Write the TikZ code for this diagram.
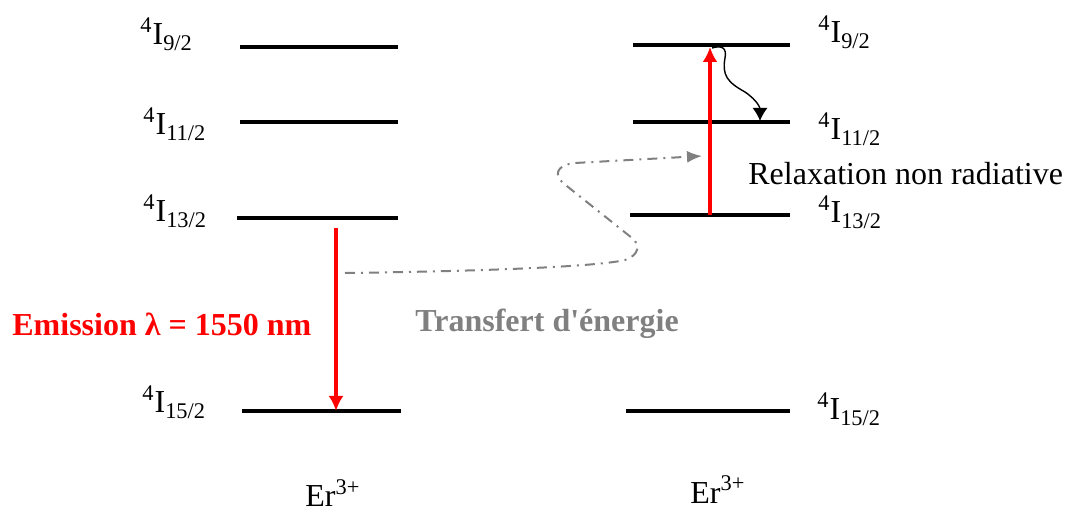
\documentclass[tikz,border=0pt]{standalone}
\usepackage{fontspec}
\setmainfont{Liberation Serif}
\usetikzlibrary{arrows.meta}
\tikzset{%
  level/.style={line width=2pt},
  term/.style={anchor=base west,inner sep=0pt},
  arrow/.style={-{Latex[length=7.5pt,width=7.5pt]}, line width=1.6pt}%
}
\newcommand{\lvlname}[1]{\textsuperscript{4}I\textsubscript{#1}}

\begin{document}
\begin{tikzpicture}[
    x=0.5pt, y=-0.5pt,
    font=\fontsize{16}{19}\selectfont,
    emis/.style={arrow, red},
    transfer/.style={
        -{Latex[length=7.5pt,width=6pt]},
        line width=1pt,
        black!50,
        dash pattern=on 5pt off 3pt on 1pt off 3pt
    },
    relax/.style={-{Latex[length=6.5pt,width=7.5pt]}, line width=0.7pt}
]
\useasboundingbox (0,0) rectangle (1067,513);

% Levels of the first ion
\coordinate (l9a) at (240,47);  \coordinate (l9b) at (398,47);
\coordinate (l11a) at (240,122); \coordinate (l11b) at (398,122);
\coordinate (l13a) at (237,218); \coordinate (l13b) at (398,218);
\coordinate (l15a) at (242,411); \coordinate (l15b) at (401,411);
\draw[level] (l9a) -- (l9b);
\draw[level] (l11a) -- (l11b);
\draw[level] (l13a) -- (l13b);
\draw[level] (l15a) -- (l15b);

% Levels of the second ion
\coordinate (r9a) at (633,45);  \coordinate (r9b) at (790,45);
\coordinate (r11a) at (633,122); \coordinate (r11b) at (790,122);
\coordinate (r13a) at (630,215); \coordinate (r13b) at (790,215);
\coordinate (r15a) at (626,411); \coordinate (r15b) at (790,411);
\draw[level] (r9a) -- (r9b);
\draw[level] (r11a) -- (r11b);
\draw[level] (r13a) -- (r13b);
\draw[level] (r15a) -- (r15b);

% Term labels
\node[term] (t9l) at (140,45) {\lvlname{9/2}};
\node[term] (t11l) at (143,135) {\lvlname{11/2}};
\node[term] (t13l) at (143,222) {\lvlname{13/2}};
\node[term] (t15l) at (142,413) {\lvlname{15/2}};
\node[term] (t9r) at (818,43) {\lvlname{9/2}};
\node[term] (t11r) at (818,140) {\lvlname{11/2}};
\node[term] (t13r) at (818,223) {\lvlname{13/2}};
\node[term] (t15r) at (817,420) {\lvlname{15/2}};

% Ions
\node[term] (erl) at (305,507) {Er\textsuperscript{3+}};
\node[term] (err) at (690,503) {Er\textsuperscript{3+}};

% Emission
\coordinate (emtop) at (336,228);
\coordinate (embot) at (336,411);
\draw[emis] (emtop) -- (embot);
\node[term, text=red, font=\fontsize{16}{19}\selectfont\bfseries] (emlabel) at (12,336)
{Emission λ = 1550 nm};

% Excitation of the second ion
\coordinate (exbot) at (710,215);
\coordinate (extop) at (710,47);
\draw[emis] (exbot) -- (extop);

% Energy transfer
\coordinate (trstart) at (345,273);
\coordinate (trend) at (702,156);
\draw[transfer] (trstart) .. controls (500,271) and (600,266) .. (625,260)
  .. controls (640,255) and (640,244) .. (632,238) -- (563,183)
  .. controls (554,175) and (556,165) .. (575,163) -- (trend);
\node[term, text=black!50, font=\fontsize{16}{19}\selectfont\bfseries] (trlabel) at (415,332)
{Transfert d\textquotesingle énergie};

% Non radiative relaxation
\coordinate (rlstart) at (712,48);
\coordinate (rlend) at (760,121);
\draw[relax] (rlstart) .. controls (722,45) and (727,48) .. (725,58)
  .. controls (722,75) and (727,82) .. (745,92)
  .. controls (758,101) and (760,108) .. (rlend);
\node[term] (rllabel) at (748,185) {Relaxation non radiative};

\end{tikzpicture}
\end{document}
